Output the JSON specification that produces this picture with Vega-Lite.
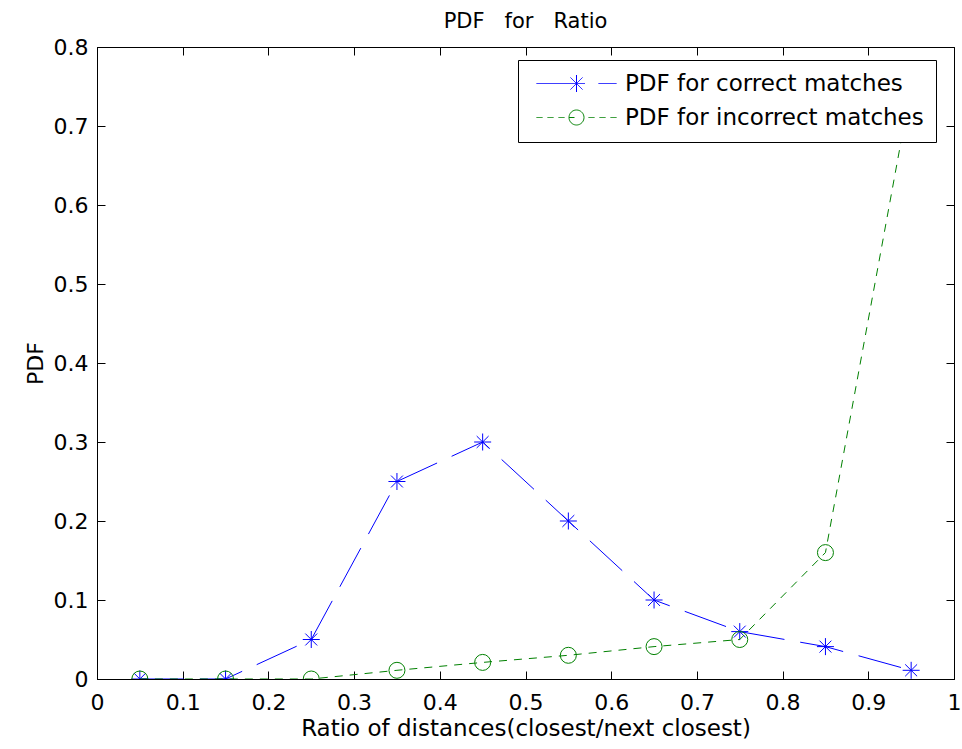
{
  "$schema": "https://vega.github.io/schema/vega-lite/v6.json",
  "width": 857,
  "height": 632,
  "autosize": {"type": "none"},
  "padding": {"left": 97, "top": 47, "right": 8, "bottom": 70},
  "background": "white",
  "title": {"text": "PDF\u00a0\u00a0 for\u00a0\u00a0 Ratio", "font": "DejaVu Sans", "fontSize": 21, "fontWeight": "normal", "color": "black", "offset": 4},
  "data": {
    "values": [
      {"ratio": 0.05, "pdf": 0.0, "series": "PDF for correct matches"},
      {"ratio": 0.15, "pdf": 0.0, "series": "PDF for correct matches"},
      {"ratio": 0.25, "pdf": 0.05, "series": "PDF for correct matches"},
      {"ratio": 0.35, "pdf": 0.25, "series": "PDF for correct matches"},
      {"ratio": 0.45, "pdf": 0.30, "series": "PDF for correct matches"},
      {"ratio": 0.55, "pdf": 0.20, "series": "PDF for correct matches"},
      {"ratio": 0.65, "pdf": 0.10, "series": "PDF for correct matches"},
      {"ratio": 0.75, "pdf": 0.06, "series": "PDF for correct matches"},
      {"ratio": 0.85, "pdf": 0.041, "series": "PDF for correct matches"},
      {"ratio": 0.95, "pdf": 0.011, "series": "PDF for correct matches"},
      {"ratio": 0.05, "pdf": 0.0, "series": "PDF for incorrect matches"},
      {"ratio": 0.15, "pdf": 0.0, "series": "PDF for incorrect matches"},
      {"ratio": 0.25, "pdf": 0.0, "series": "PDF for incorrect matches"},
      {"ratio": 0.35, "pdf": 0.011, "series": "PDF for incorrect matches"},
      {"ratio": 0.45, "pdf": 0.021, "series": "PDF for incorrect matches"},
      {"ratio": 0.55, "pdf": 0.03, "series": "PDF for incorrect matches"},
      {"ratio": 0.65, "pdf": 0.041, "series": "PDF for incorrect matches"},
      {"ratio": 0.75, "pdf": 0.05, "series": "PDF for incorrect matches"},
      {"ratio": 0.85, "pdf": 0.16, "series": "PDF for incorrect matches"},
      {"ratio": 0.95, "pdf": 0.75, "series": "PDF for incorrect matches"}
    ]
  },
  "layer": [
    {
      "transform": [{"filter": "datum.series === 'PDF for correct matches'"}],
      "mark": {"type": "line", "strokeDash": [44, 16], "strokeWidth": 1, "clip": true},
      "encoding": {
        "x": {"field": "ratio", "type": "quantitative", "scale": {"domain": [0, 1], "nice": false, "zero": false},
          "axis": {"orient": "bottom", "values": [0, 0.1, 0.2, 0.3, 0.4, 0.5, 0.6, 0.7, 0.8, 0.9, 1], "format": "~g", "grid": false,
            "labelFont": "DejaVu Sans", "labelFontSize": 22, "labelColor": "black", "labelPadding": 21, "labelFlush": false, "labelOverlap": false,
            "tickSize": -8, "tickColor": "black", "domainColor": "black",
            "title": "Ratio of distances(closest/next closest)", "titleFont": "DejaVu Sans", "titleFontSize": 23, "titleFontWeight": "normal", "titleColor": "black", "titlePadding": 4}},
        "y": {"field": "pdf", "type": "quantitative", "scale": {"domain": [0, 0.8], "nice": false},
          "axis": {"orient": "left", "values": [0, 0.1, 0.2, 0.3, 0.4, 0.5, 0.6, 0.7, 0.8], "format": "~g", "grid": false,
            "labelFont": "DejaVu Sans", "labelFontSize": 22, "labelColor": "black", "labelPadding": 17, "labelFlush": false, "labelOverlap": false,
            "tickSize": -8, "tickColor": "black", "domainColor": "black",
            "title": "PDF", "titleFont": "DejaVu Sans", "titleFontSize": 22, "titleFontWeight": "normal", "titleColor": "black", "titlePadding": 6}},
        "color": {"field": "series", "type": "nominal",
          "scale": {"domain": ["PDF for correct matches", "PDF for incorrect matches"], "range": ["#0000ff", "#008000"]},
          "legend": {
            "orient": "none", "legendX": 421, "legendY": 13, "title": null,
            "strokeColor": "black", "fillColor": "white", "padding": 12,
            "labelFont": "DejaVu Sans", "labelFontSize": 23, "labelColor": "black", "labelLimit": 0,
            "symbolSize": 400, "symbolOffset": 35, "labelOffset": 37, "rowPadding": 10, "symbolStrokeWidth": 1,
            "encode": {"symbols": {"update": {
              "shape": {"signal": "datum.value === 'PDF for correct matches' ? 'M-4,0H0.85M2.2,0H4M0,-0.85V0.85M-0.6,-0.6L0.6,0.6M-0.6,0.6L0.6,-0.6' : 'M-4,0H-3.4M-2.9,0H-2.3M-1.8,0H-1.2M-0.75,0A0.75,0.75 0 1,1 0.75,0A0.75,0.75 0 1,1 -0.75,0M-0.75,0H-0.2M1.2,0H1.8M2.3,0H2.9M3.4,0H4'"},
              "strokeDash": {"value": [1, 0]},
              "fill": {"value": "transparent"},
              "opacity": {"value": 1}
            }}}
          }}
      }
    },
    {
      "transform": [{"filter": "datum.series === 'PDF for correct matches'"}],
      "mark": {"type": "point", "shape": "M-1,0H1M0,-1V1M-0.7,-0.7L0.7,0.7M-0.7,0.7L0.7,-0.7", "size": 289, "filled": false, "strokeWidth": 1, "opacity": 1, "clip": true},
      "encoding": {
        "x": {"field": "ratio", "type": "quantitative",
          "axis": {"orient": "top", "values": [0, 0.1, 0.2, 0.3, 0.4, 0.5, 0.6, 0.7, 0.8, 0.9, 1], "labels": false, "title": null, "domain": false, "grid": false, "tickSize": -8, "tickColor": "black"}},
        "y": {"field": "pdf", "type": "quantitative",
          "axis": {"orient": "right", "values": [0, 0.1, 0.2, 0.3, 0.4, 0.5, 0.6, 0.7, 0.8], "labels": false, "title": null, "domain": false, "grid": false, "tickSize": -8, "tickColor": "black"}},
        "color": {"field": "series", "type": "nominal"}
      }
    },
    {
      "transform": [{"filter": "datum.series === 'PDF for incorrect matches'"}],
      "mark": {"type": "line", "strokeDash": [8, 7], "strokeWidth": 1, "clip": true},
      "encoding": {
        "x": {"field": "ratio", "type": "quantitative", "axis": null},
        "y": {"field": "pdf", "type": "quantitative", "axis": null},
        "color": {"field": "series", "type": "nominal"}
      }
    },
    {
      "transform": [{"filter": "datum.series === 'PDF for incorrect matches'"}],
      "mark": {"type": "point", "shape": "circle", "size": 256, "filled": false, "strokeWidth": 1, "opacity": 1, "clip": true},
      "encoding": {
        "x": {"field": "ratio", "type": "quantitative", "axis": null},
        "y": {"field": "pdf", "type": "quantitative", "axis": null},
        "color": {"field": "series", "type": "nominal"}
      }
    }
  ],
  "resolve": {"axis": {"x": "independent", "y": "independent"}},
  "config": {
    "view": {"stroke": "black", "strokeWidth": 1},
    "font": "DejaVu Sans"
  }
}
